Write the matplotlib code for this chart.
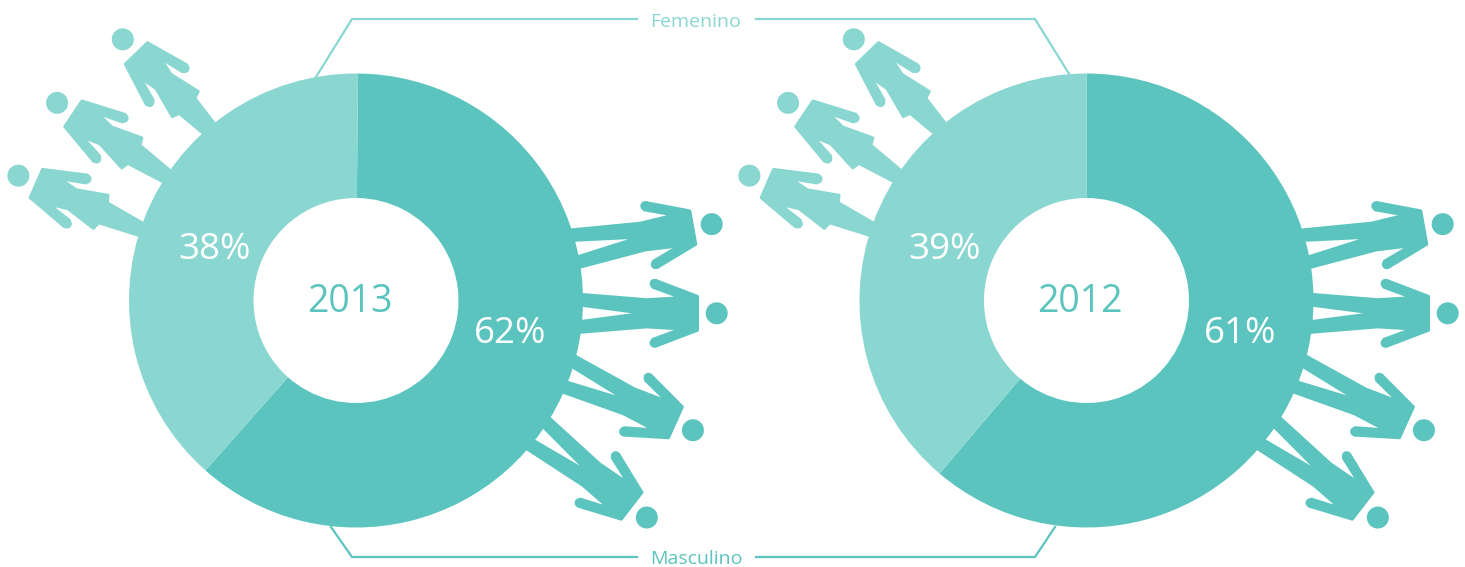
import matplotlib
matplotlib.use("Agg")
import matplotlib.pyplot as plt
from matplotlib.patches import Polygon, Circle
from matplotlib.transforms import Affine2D

years = ["2013", "2012"]
masculino_label = [62, 61]
femenino_label = [38, 39]
# slice shares as they are actually drawn in the picture
masculino = [61.4, 61.2]
femenino = [38.6, 38.8]
start_angles = [89.5, 90]
centers_x = [356, 1086.5]
figure_offset = [0, 731]

DARK = "#5BC4BF"
LIGHT = "#8AD6D1"
W, H = 1465, 567
plt.rcParams["font.family"] = ["Open Sans", "DejaVu Sans"]

fig = plt.figure(figsize=(W / 100, H / 100), dpi=100)
ax = fig.add_axes([0, 0, 1, 1])


def Y(py):
    return H - py


def half_to_full(half):
    return half + [(d, -n) for d, n in reversed(half)]


# person icons in local coordinates: d runs from shoulders to feet
MALE = [(-0.9, 17), (41, 33), (44, 26), (16, 15.7), (50, 13.7),
        (150, 21.8), (150, 12.5), (54, 0)]
MALE = MALE + [(d, -n) for d, n in reversed(MALE[:-1])]
MALE_ARM = (42.4, 29.7)
FEMALE = half_to_full([(-0.5, 15.5), (43, 28.4), (45, 20.4), (20, 14), (38.7, 10.4),
                       (70, 18.2), (72.5, 11), (150, 2.5)])
FEMALE_ARM = (44, 24.5)

female_pose = [(136.7, 53.7, -46), (73.7, 114, -33.8), (36.7, 183.7, -23.7)]
male_pose = [(692, 227.7, 190.2), (696.7, 313.3, 180), (674.7, 422, 155.7), (631, 505.3, 142.3)]


def person(x, y, theta, outline, arm, color):
    tr = Affine2D().rotate_deg(theta).translate(x, Y(y)) + ax.transData
    ax.add_patch(Polygon(outline, closed=True, fc=color, ec=color, lw=2,
                         joinstyle="round", transform=tr, zorder=1))
    for side in (1, -1):
        ax.add_patch(Circle((arm[0], side * arm[1]), 4.7, fc=color, ec="none",
                            transform=tr, zorder=1))
    ax.add_patch(Circle((-20, 0), 11, fc=color, ec="none", transform=tr, zorder=1))


for i, year in enumerate(years):
    cx = centers_x[i]
    ax.pie([masculino[i], femenino[i]], colors=[DARK, LIGHT], startangle=start_angles[i],
           counterclock=False, center=(cx, Y(300.5)), radius=227, frame=True,
           wedgeprops=dict(width=124.5, linewidth=0, zorder=2))
    for x, y, t in female_pose:
        person(x + figure_offset[i], y, t, FEMALE, FEMALE_ARM, LIGHT)
    for x, y, t in male_pose:
        person(x + figure_offset[i], y, t, MALE, MALE_ARM, DARK)
    ax.text(cx - 6.5, Y(302), year, color=DARK, fontsize=27, ha="center", va="center", zorder=3)
    ax.text(cx - 141.5, Y(250), f"{femenino_label[i]}%", color="white", fontsize=26.5, ha="center",
            va="center", zorder=3)
    ax.text(cx + 154, Y(334), f"{masculino_label[i]}%", color="white", fontsize=26.5, ha="center",
            va="center", zorder=3)

lw = 1.6
ax.plot([316, 352, 637], [Y(77), Y(19), Y(19)], color=LIGHT, lw=lw, zorder=0)
ax.plot([756, 1035, 1071], [Y(19), Y(19), Y(77)], color=LIGHT, lw=lw, zorder=0)
ax.plot([331, 352, 637], [Y(527), Y(557), Y(557)], color=DARK, lw=lw, zorder=0)
ax.plot([756, 1035, 1055], [Y(557), Y(557), Y(527)], color=DARK, lw=lw, zorder=0)
ax.text(696, Y(22), "Femenino", color=LIGHT, fontsize=14, ha="center", va="center")
ax.text(696, Y(559), "Masculino", color=DARK, fontsize=14, ha="center", va="center")

ax.set_xlim(0, W)
ax.set_ylim(0, H)
ax.set_aspect("auto")
ax.axis("off")
fig.savefig("out.png", dpi=100, facecolor="white")
